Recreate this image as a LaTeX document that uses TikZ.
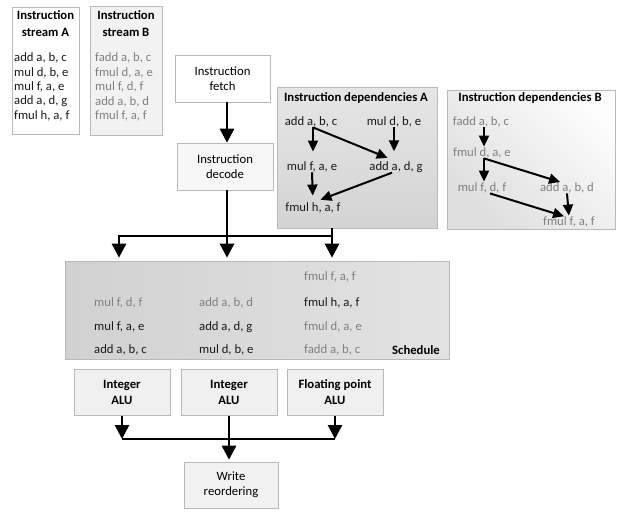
\documentclass[tikz,border=0pt]{standalone}
\usepackage{fontspec}
\setmainfont{Carlito}
\usetikzlibrary{arrows.meta}
\usetikzlibrary{positioning}

\tikzset{
  panel/.style={draw=gray!55, line width=.6pt, inner sep=0pt},
  stage/.style={panel, align=center, minimum width=96pt, minimum height=46pt},
  hd/.style={font=\fontsize{12.7}{16.5}\selectfont\bfseries, align=center, inner sep=0pt},
  ins/.style={inner sep=0pt, text=black!90},
  insB/.style={inner sep=0pt, text=black!50},
  bigarr/.style={line width=2.7pt, -{Triangle[width=14pt,length=14pt]}},
  deparr/.style={line width=2pt, -{Triangle[width=10pt,length=11pt]}},
}

\begin{document}
\begin{tikzpicture}[x=1pt,y=-1pt,font=\fontsize{12.7}{15}\selectfont]
\useasboundingbox (0,0) rectangle (624,517);

% instruction streams
\node[panel, fill=white, minimum width=67pt, minimum height=127pt] (streamA) at (45.5,70.5) {};
\node[panel, fill=gray!10, minimum width=72pt, minimum height=129pt] (streamB) at (126,70.5) {};
\node[hd] (titleA) at (45.5,23.5) {Instruction\\stream A};
\node[hd] (titleB) at (126,23.5) {Instruction\\stream B};
\foreach \t [count=\i from 0] in {{add a, b, c},{mul d, b, e},{mul f, a, e},{add a, d, g},{fmul h, a, f}}
  \node[ins, anchor=west] (sa\i) at (14,58+14.5*\i) {\t};
\foreach \t [count=\i from 0] in {{fadd a, b, c},{fmul d, a, e},{mul f, d, f},{add a, b, d},{fmul f, a, f}}
  \node[insB, anchor=west] (sb\i) at (95,58+14.5*\i) {\t};

% front end
\node[stage, fill=white, minimum width=95pt, minimum height=47pt] (fetch) at (222.5,78.5) {Instruction\\fetch};
\node[stage, fill=gray!6, minimum height=47pt] (decode) at (225,166.5) {Instruction\\decode};

% dependencies A
\node[panel, top color=gray!20, bottom color=gray!34, minimum width=160pt, minimum height=141pt] (depA) at (357,157.5) {};
\node[hd] (depAtitle) at (356,98) {Instruction dependencies A};
\node[ins] (dAadd) at (311,122) {add a, b, c};
\node[ins] (dAmuld) at (394,122) {mul d, b, e};
\node[ins] (dAmulf) at (312,167) {mul f, a, e};
\node[ins] (dAaddg) at (396,167) {add a, d, g};
\node[ins] (dAfmul) at (313,208) {fmul h, a, f};
\draw[deparr, shorten >=10pt] ([xshift=2pt]dAadd.south) -- ([xshift=1pt]dAmulf.north);
\draw[deparr, shorten >=9pt] ([xshift=2pt]dAadd.south) -- (dAaddg.north);
\draw[deparr, shorten >=10pt] (dAmuld.south) -- ([xshift=-2pt]dAaddg.north);
\draw[deparr, shorten >=7pt] (dAmulf.south) -- (dAfmul.north);
\draw[deparr, shorten >=8pt] ([xshift=-4pt]dAaddg.south) -- (dAfmul.north);

% dependencies B
\node[panel, left color=gray!26, right color=gray!2, shading angle=135, minimum width=168pt, minimum height=139pt] (depB) at (531,159.5) {};
\node[hd] (depBtitle) at (530,98) {Instruction dependencies B};
\node[insB] (dBfadd) at (481,122) {fadd a, b, c};
\node[insB] (dBfmuld) at (482,153) {fmul d, a, e};
\node[insB] (dBmulf) at (482,188) {mul f, d, f};
\node[insB] (dBadd) at (567,188) {add a, b, d};
\node[insB] (dBfmulf) at (569,222) {fmul f, a, f};
\draw[deparr, shorten >=1pt] ([xshift=3pt]dBfadd.south) -- ([xshift=2pt]dBfmuld.north);
\draw[deparr, shorten >=1pt] ([xshift=2pt]dBfmuld.south) -- ([xshift=2pt]dBmulf.north);
\draw[deparr, shorten >=2pt] ([xshift=2pt]dBfmuld.south) -- ([xshift=-5pt]dBadd.north);
\draw[deparr, shorten >=1pt] (dBadd.south) -- (dBfmulf.north);
\draw[deparr, shorten >=1pt] ([xshift=8pt]dBmulf.south) -- ([xshift=-4pt]dBfmulf.north);

% schedule
\node[panel, left color=gray!36, right color=gray!22, minimum width=384pt, minimum height=98pt] (sched) at (257,310) {};
\node[insB, anchor=west] (s11) at (94,303) {mul f, d, f};
\node[ins, anchor=west] (s12) at (94,327) {mul f, a, e};
\node[ins, anchor=west] (s13) at (94,350) {add a, b, c};
\node[insB, anchor=west] (s21) at (199,303) {add a, b, d};
\node[ins, anchor=west] (s22) at (199,327) {add a, d, g};
\node[ins, anchor=west] (s23) at (199,350) {mul d, b, e};
\node[insB, anchor=west] (s30) at (304,277) {fmul f, a, f};
\node[ins, anchor=west] (s31) at (304,303) {fmul h, a, f};
\node[insB, anchor=west] (s32) at (304,327) {fmul d, a, e};
\node[insB, anchor=west] (s33) at (304,350) {fadd a, b, c};
\node[hd, anchor=west] (schedlabel) at (392,350) {Schedule};

% issue bar
\coordinate (barL) at (119,236);
\coordinate (barM) at (227,236);
\coordinate (barR) at (332,236);
\draw[bigarr] (fetch.south -| barM) -- (barM |- decode.north);
\draw[line width=2.7pt] (decode.south -| barM) -- (barM);
\draw[bigarr, shorten >=3pt] (barR) -- (barL) -- (barL |- sched.north);
\draw[bigarr, shorten >=3pt] (barM) -- (barM |- sched.north);
\draw[bigarr, shorten >=3pt] (depA.south -| barR) -- (barR |- sched.north);

% execution units
\node[stage, fill=gray!12, font=\fontsize{12.7}{16}\selectfont\bfseries] (aluA) at (122,392.5) {Integer\\ALU};
\node[stage, fill=gray!12, font=\fontsize{12.7}{16}\selectfont\bfseries] (aluB) at (229,392.5) {Integer\\ALU};
\node[stage, fill=gray!12, font=\fontsize{12.7}{16}\selectfont\bfseries] (aluC) at (335,392.5) {Floating point\\ALU};
\node[stage, fill=gray!10, minimum width=94pt] (write) at (231,485) {Write\\reordering};

\coordinate (aluBar) at (231,439);
\draw[bigarr] (aluA.south) -- (aluA.south |- aluBar);
\draw[bigarr] (aluC.south) -- (aluC.south |- aluBar);
\draw[line width=2.7pt] (aluA.south |- aluBar) -- (aluC.south |- aluBar);
\draw[bigarr, shorten >=2pt] (aluB.south) -- (aluB.south |- write.north);
\end{tikzpicture}
\end{document}
